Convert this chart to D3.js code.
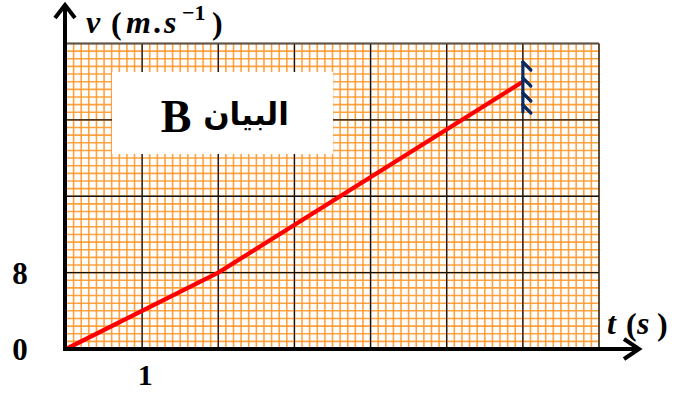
<!DOCTYPE html>
<html>
<head>
<meta charset="utf-8">
<script src="https://cdn.jsdelivr.net/npm/d3@7"></script>
<style>
  html, body { margin: 0; padding: 0; background: #fff; }
  svg { display: block; }
</style>
</head>
<body>
<svg id="chart" width="675" height="394"></svg>
<script>
// Velocity–time graph: piecewise linear motion
const timeValues = [0, 2, 6];          // t in s
const speedValues = [0, 8, 28];        // v in m/s
const xTickValues = [1];
const yTickValues = [0, 8];
const xDomain = [0, 7];
const yDomain = [0, 32];
const xMajorStep = 1, xMinorStep = 0.1;
const yMajorStep = 8, yMinorStep = 0.8;

const svg = d3.select("#chart");
const x = d3.scaleLinear().domain(xDomain).range([66, 599]);
const y = d3.scaleLinear().domain(yDomain).range([349, 43.5]);

const serif = "'Liberation Serif', 'DejaVu Serif', serif";

// millimetre paper: minor lines
const xMinor = d3.range(xDomain[0], xDomain[1] + 1e-9, xMinorStep);
const yMinor = d3.range(yDomain[0], yDomain[1] + 1e-9, yMinorStep);
const grid = svg.append("g");
grid.selectAll("line.vx").data(xMinor).join("line")
  .attr("x1", d => x(d)).attr("x2", d => x(d))
  .attr("y1", y(yDomain[0])).attr("y2", y(yDomain[1]))
  .attr("stroke", "#ff9a2e").attr("stroke-width", 1.6).attr("opacity", 0.9);
grid.selectAll("line.hy").data(yMinor).join("line")
  .attr("y1", d => y(d)).attr("y2", d => y(d))
  .attr("x1", x(xDomain[0])).attr("x2", x(xDomain[1]))
  .attr("stroke", "#ff9a2e").attr("stroke-width", 1.6).attr("opacity", 0.9);

// major lines
const xMajor = d3.range(xDomain[0], xDomain[1] + 1e-9, xMajorStep);
const yMajor = d3.range(yDomain[0], yDomain[1] + 1e-9, yMajorStep);
grid.selectAll("line.mx").data(xMajor).join("line")
  .attr("x1", d => x(d)).attr("x2", d => x(d))
  .attr("y1", y(yDomain[0])).attr("y2", y(yDomain[1]))
  .attr("stroke", "#111").attr("stroke-width", 1.3);
grid.selectAll("line.my").data(yMajor).join("line")
  .attr("y1", d => y(d)).attr("y2", d => y(d))
  .attr("x1", x(xDomain[0])).attr("x2", x(xDomain[1]))
  .attr("stroke", "#111").attr("stroke-width", 1.3);
grid.append("line")
  .attr("x1", x(xDomain[0])).attr("x2", x(xDomain[1]))
  .attr("y1", y(yDomain[1])).attr("y2", y(yDomain[1]))
  .attr("stroke", "#555").attr("stroke-width", 1.5);

// title box
svg.append("rect").attr("x", 112).attr("y", 72).attr("width", 221).attr("height", 82)
  .attr("fill", "#fff");
svg.append("text").attr("x", 176).attr("y", 132)
  .attr("text-anchor", "middle")
  .attr("font-family", serif).attr("font-weight", "bold").attr("font-size", 46)
  .attr("fill", "#000").text("B");
svg.append("text").attr("x", 246).attr("y", 125)
  .attr("text-anchor", "middle")
  .attr("font-family", "'DejaVu Sans', 'Noto Sans', sans-serif")
  .attr("font-weight", "bold").attr("font-size", 31)
  .attr("fill", "#000").text("البيان");

// velocity curve
const pts = timeValues.map((t, i) => [t, speedValues[i]]);
const line = d3.line().x(d => x(d[0])).y(d => y(d[1]));
svg.append("path").datum(pts).attr("d", line)
  .attr("fill", "none").attr("stroke", "#ff0000").attr("stroke-width", 4.2)
  .attr("stroke-linejoin", "round");

// hatched stop mark at the end of the curve
const endT = timeValues[timeValues.length - 1];
const hx = x(endT);
const hatch = svg.append("g").attr("stroke", "#0b2a60").attr("stroke-width", 3.2)
  .attr("stroke-linecap", "round").attr("fill", "none");
hatch.append("line").attr("x1", hx).attr("x2", hx).attr("y1", 62).attr("y2", 112);
[62, 78, 93, 105].forEach(yy => {
  hatch.append("line").attr("x1", hx).attr("y1", yy).attr("x2", hx + 8).attr("y2", yy + 8);
});

// axes
const axes = svg.append("g").attr("stroke", "#000").attr("stroke-width", 4)
  .attr("fill", "none").attr("stroke-linecap", "butt");
axes.append("line").attr("x1", x(0) - 1).attr("x2", x(0) - 1)
  .attr("y1", y(0) + 2).attr("y2", 6);
axes.append("path").attr("d", `M${x(0) - 11},${18} L${x(0) - 1},${5} L${x(0) + 9},${18}`)
  .attr("stroke-linejoin", "miter");
axes.append("line").attr("x1", x(0) - 3).attr("x2", 638)
  .attr("y1", y(0)).attr("y2", y(0));
axes.append("path").attr("d", `M${624},${y(0) - 10} L${639},${y(0)} L${624},${y(0) + 10}`);

// tick labels
svg.append("g").selectAll("text").data(yTickValues).join("text")
  .attr("x", 20).attr("y", d => y(d) + 11)
  .attr("text-anchor", "middle").attr("font-family", serif)
  .attr("font-weight", "bold").attr("font-size", 31).text(d => d);
svg.append("g").selectAll("text").data(xTickValues).join("text")
  .attr("x", d => x(d) + 3).attr("y", 385)
  .attr("text-anchor", "middle").attr("font-family", serif)
  .attr("font-weight", "bold").attr("font-size", 30).text(d => d);

// axis titles, placed piece by piece
function piece(tx, ty, str, size, italic) {
  svg.append("text").attr("x", tx).attr("y", ty)
    .attr("font-family", serif).attr("font-weight", "bold")
    .attr("font-size", size).attr("font-style", italic ? "italic" : "normal")
    .text(str);
}
piece(86, 33, "v", 32, true);
piece(111, 34, "(", 32, false);
piece(126, 33, "m", 32, true);
piece(153, 33, ".", 32, false);
piece(164, 33, "s", 32, true);
piece(182, 20, "−1", 22, false);
piece(212, 34, ")", 32, false);

piece(607, 334, "t", 32, true);
piece(626, 335, "(", 32, false);
piece(637, 334, "s", 32, true);
piece(657, 335, ")", 32, false);
</script>
</body>
</html>
